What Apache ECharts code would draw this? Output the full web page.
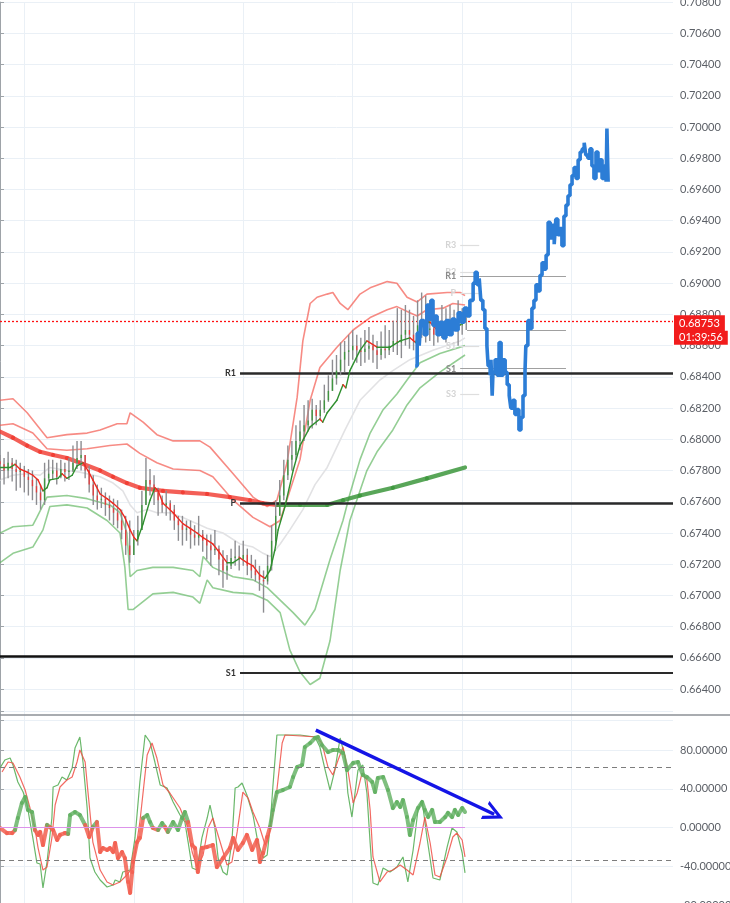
<!DOCTYPE html>
<html><head><meta charset="utf-8">
<script src="https://cdn.jsdelivr.net/npm/echarts@6/dist/echarts.min.js"></script>
<style>html,body{margin:0;padding:0;background:#fff}#c{width:730px;height:903px}</style>
</head><body><div id="c"></div>
<script>
// ---------- price bars (one per bar index, opening at prior close) ----------
const firstOpen = 0.6786;
const closes = [0.6784,0.6780,0.6785,0.6781,0.6779,0.6780,0.6776,0.6774,0.6770,0.6766,
0.6761,0.6775,0.6778,0.6780,0.6776,0.6781,0.6779,0.6780,0.6785,0.6788,
0.6790,0.6780,0.6771,0.6764,0.6761,0.6762,0.6758,0.6756,0.6753,0.6748,
0.6742,0.6732,0.6726,0.6736,0.6742,0.6758,0.6774,0.6771,0.6766,0.6761,
0.6758,0.6759,0.6755,0.6748,0.6745,0.6742,0.6743,0.6739,0.6737,0.6739,
0.6735,0.6732,0.6729,0.6730,0.6723,0.6716,0.6719,0.6724,0.6725,0.6723,
0.6726,0.6719,0.6716,0.6713,0.6710,0.6709,0.6719,0.6735,0.6751,0.6764,
0.6777,0.6787,0.6790,0.6799,0.6805,0.6809,0.6812,0.6819,0.6815,0.6819,
0.6825,0.6831,0.6839,0.6844,0.6851,0.6856,0.6857,0.6860,0.6857,0.6856,
0.6858,0.6860,0.6857,0.6854,0.6858,0.6857,0.6860,0.6863,0.6862,0.6867,
0.6870,0.6867,0.6863,0.6873,0.6876,0.6870,0.6871,0.6867,0.6869,0.6873,
0.6870,0.6875,0.6876,0.6873,0.6875,0.6875];
const highs = [0.6790,0.6788,0.6792,0.6788,0.6787,0.6785,0.6783,0.6781,0.6780,0.6775,
0.6771,0.6785,0.6787,0.6787,0.6785,0.6787,0.6785,0.6788,0.6796,0.6799,
0.6799,0.6790,0.6783,0.6777,0.6771,0.6769,0.6766,0.6764,0.6762,0.6761,
0.6755,0.6751,0.6748,0.6742,0.6751,0.6767,0.6788,0.6781,0.6777,0.6769,
0.6764,0.6767,0.6761,0.6758,0.6751,0.6751,0.6748,0.6748,0.6745,0.6751,
0.6742,0.6739,0.6739,0.6742,0.6732,0.6729,0.6726,0.6730,0.6735,0.6732,
0.6735,0.6730,0.6726,0.6723,0.6719,0.6716,0.6726,0.6745,0.6761,0.6774,
0.6787,0.6796,0.6799,0.6809,0.6812,0.6822,0.6825,0.6826,0.6822,0.6825,
0.6835,0.6841,0.6851,0.6854,0.6862,0.6863,0.6867,0.6870,0.6867,0.6865,
0.6870,0.6872,0.6867,0.6863,0.6869,0.6873,0.6870,0.6876,0.6884,0.6883,
0.6886,0.6883,0.6879,0.6889,0.6894,0.6892,0.6889,0.6883,0.6879,0.6886,
0.6884,0.6886,0.6883,0.6889,0.6884,0.6883];
const lows = [0.6774,0.6771,0.6775,0.6773,0.6767,0.6769,0.6766,0.6764,0.6761,0.6758,
0.6755,0.6758,0.6773,0.6774,0.6771,0.6775,0.6773,0.6774,0.6779,0.6781,
0.6780,0.6775,0.6766,0.6758,0.6755,0.6756,0.6751,0.6748,0.6745,0.6743,
0.6736,0.6726,0.6721,0.6727,0.6732,0.6742,0.6761,0.6764,0.6758,0.6751,
0.6753,0.6751,0.6748,0.6742,0.6735,0.6732,0.6735,0.6730,0.6732,0.6732,
0.6728,0.6723,0.6719,0.6726,0.6713,0.6705,0.6710,0.6717,0.6719,0.6716,
0.6719,0.6713,0.6711,0.6709,0.6703,0.6689,0.6707,0.6716,0.6732,0.6751,
0.6761,0.6774,0.6780,0.6787,0.6793,0.6799,0.6805,0.6807,0.6809,0.6812,
0.6817,0.6824,0.6831,0.6835,0.6841,0.6843,0.6847,0.6851,0.6849,0.6847,
0.6849,0.6851,0.6849,0.6845,0.6851,0.6852,0.6854,0.6856,0.6854,0.6852,
0.6860,0.6858,0.6857,0.6860,0.6865,0.6862,0.6863,0.6860,0.6862,0.6865,
0.6862,0.6867,0.6869,0.6860,0.6867,0.6870];

// ---------- indicator lines: [bar index, value] ----------
const bandUpperOuter = [[0,0.6825],[3.2,0.6826],[6.7,0.6817],[11.6,0.6801],[16.5,0.6803],[21.5,0.6804],[24.7,0.6806],[28.9,0.6810],[31.3,0.6810],[32.1,0.6817],[35.3,0.6811],[38.7,0.6803],[42.7,0.6799],[49.3,0.6799],[51.8,0.6795],[57.5,0.6778],[62.4,0.6763],[65.9,0.6757],[68.3,0.6761],[70.8,0.6785],[73.3,0.6827],[74.7,0.6863],[76.5,0.6887],[78.2,0.6891],[80.7,0.6893],[82.1,0.6894],[83.9,0.6887],[85.8,0.6883],[88.8,0.6893],[91.3,0.6897],[95.5,0.6901],[97.9,0.6900],[100.4,0.6891],[102.9,0.6888],[105.3,0.6893],[110.3,0.6894],[113.5,0.6894],[114.7,0.6892]];
const bandUpperInner = [[0,0.6809],[3.2,0.6810],[8.1,0.6804],[11.6,0.6794],[16.5,0.6793],[21.5,0.6794],[27.1,0.6796],[31.3,0.6797],[34.5,0.6791],[38.7,0.6785],[42.7,0.6781],[49.3,0.6780],[52.5,0.6776],[57.5,0.6761],[62.4,0.6750],[66.6,0.6744],[69.1,0.6748],[71.5,0.6767],[74.0,0.6787],[76.5,0.6825],[78.9,0.6846],[83.1,0.6859],[87.1,0.6870],[91.3,0.6878],[95.5,0.6883],[97.9,0.6885],[101.1,0.6881],[102.9,0.6879],[105.3,0.6883],[109.3,0.6884],[111.7,0.6887],[114.7,0.6886]];
const bandBasis = [[0,0.6774],[3.2,0.6777],[6.7,0.6778],[9.9,0.6777],[12.3,0.6782],[16.5,0.6780],[19.7,0.6779],[24.7,0.6776],[27.9,0.6772],[30.3,0.6767],[32.1,0.6758],[33.8,0.6753],[36.3,0.6755],[38.7,0.6753],[41.9,0.6753],[45.1,0.6750],[48.6,0.6746],[51.1,0.6743],[55.0,0.6740],[59.2,0.6733],[62.4,0.6731],[64.9,0.6727],[66.6,0.6725],[69.1,0.6733],[71.5,0.6742],[74.7,0.6755],[77.7,0.6771],[80.7,0.6782],[85.1,0.6806],[88.8,0.6825],[93.7,0.6838],[96.9,0.6844],[101.1,0.6851],[106.8,0.6857],[113.5,0.6863],[114.7,0.6865]];
const bandLowerInner = [[0,0.6740],[3.2,0.6744],[8.1,0.6745],[9.1,0.6750],[11.6,0.6763],[16.5,0.6764],[21.5,0.6762],[27.1,0.6758],[29.6,0.6753],[31.3,0.6740],[32.1,0.6712],[33.8,0.6716],[37.7,0.6718],[42.7,0.6718],[47.6,0.6716],[49.3,0.6712],[50.1,0.6725],[52.5,0.6718],[57.5,0.6712],[62.4,0.6710],[65.9,0.6705],[69.1,0.6697],[72.3,0.6689],[75.2,0.6681],[77.7,0.6691],[81.4,0.6723],[84.6,0.6748],[86.3,0.6765],[88.8,0.6787],[91.3,0.6804],[94.5,0.6819],[97.9,0.6829],[100.4,0.6838],[103.6,0.6849],[108.5,0.6855],[114.7,0.6860]];
const bandLowerOuter = [[0,0.6721],[3.2,0.6727],[8.1,0.6731],[10.6,0.6742],[12.3,0.6757],[16.5,0.6758],[21.5,0.6756],[26.4,0.6748],[29.6,0.6740],[30.8,0.6718],[31.6,0.6691],[32.8,0.6691],[37.7,0.6701],[42.7,0.6702],[47.6,0.6699],[49.3,0.6695],[51.1,0.6710],[52.5,0.6705],[57.5,0.6702],[62.4,0.6701],[65.9,0.6697],[69.1,0.6689],[71.5,0.6665],[74.0,0.6651],[76.5,0.6643],[78.9,0.6647],[81.4,0.6671],[83.9,0.6716],[86.3,0.6748],[88.8,0.6767],[90.5,0.6780],[93.0,0.6792],[96.9,0.6806],[100.4,0.6822],[103.6,0.6833],[108.5,0.6843],[114.7,0.6854]];
const fastMA = [[0,0.6782],[2.5,0.6782],[3.7,0.6784],[4.9,0.6781],[6.7,0.6779],[8.1,0.6777],[9.4,0.6774],[10.6,0.6767],[11.6,0.6769],[12.3,0.6774],[14.3,0.6775],[15.3,0.6778],[16.5,0.6775],[17.8,0.6777],[19.0,0.6783],[20.5,0.6785],[21.7,0.6780],[22.9,0.6774],[24.7,0.6765],[26.4,0.6762],[27.9,0.6759],[29.6,0.6755],[30.8,0.6750],[32.1,0.6742],[33.1,0.6737],[33.8,0.6735],[35.3,0.6746],[37.0,0.6761],[38.2,0.6769],[39.0,0.6767],[40.2,0.6759],[42.7,0.6753],[45.1,0.6746],[46.9,0.6743],[48.6,0.6740],[50.1,0.6737],[52.5,0.6733],[54.3,0.6727],[56.0,0.6721],[57.5,0.6721],[59.2,0.6724],[60.9,0.6721],[62.4,0.6719],[64.1,0.6713],[65.4,0.6711],[66.6,0.6716],[67.8,0.6729],[68.6,0.6742],[70.3,0.6757],[72.3,0.6780],[74.0,0.6796],[76.5,0.6808],[78.9,0.6813],[79.6,0.6811],[80.7,0.6817],[83.1,0.6825],[84.6,0.6835],[85.3,0.6833],[86.3,0.6844],[88.8,0.6857],[90.5,0.6863],[93.0,0.6859],[96.2,0.6859],[98.7,0.6863],[101.1,0.6865],[102.5,0.6862],[104.3,0.6874],[106.1,0.6875],[107.8,0.6870],[110.3,0.6872],[112.2,0.6875],[113.4,0.6873],[114.7,0.6876]];
const slowMA = [[0,0.6805],[3.2,0.6801],[6.7,0.6796],[9.9,0.6792],[13.1,0.6790],[16.5,0.6788],[19.7,0.6785],[24.7,0.6780],[27.9,0.6776],[31.3,0.6772],[34.5,0.6769],[40.2,0.6767],[45.1,0.6766],[51.1,0.6765],[56.7,0.6763],[61.7,0.6761],[64.9,0.6759],[68.3,0.6758],[74.0,0.6758],[80.7,0.6758],[84.6,0.6761],[88.8,0.6764],[96.9,0.6769],[105.3,0.6775],[114.7,0.6782]];
const forecast = [[102.4,0.6847],[102.9,0.6868],[103.4,0.6860],[103.8,0.6876],[104.6,0.6867],[105.3,0.6886],[105.8,0.6877],[106.3,0.6889],[106.8,0.6873],[107.3,0.6879],[107.8,0.6867],[108.5,0.6875],[109.3,0.6865],[110.0,0.6876],[110.8,0.6867],[111.5,0.6877],[112.2,0.6870],[113.0,0.6881],[113.7,0.6875],[114.5,0.6884],[115.2,0.6879],[115.9,0.6889],[116.7,0.6900],[117.2,0.6907],[117.7,0.6899],[118.2,0.6903],[118.6,0.6889],[119.1,0.6883],[119.6,0.6871],[120.1,0.6860],[120.4,0.6847],[120.9,0.6841],[121.1,0.6851],[121.4,0.6828],[121.6,0.6843],[122.1,0.6851],[122.6,0.6841],[123.1,0.6862],[123.6,0.6841],[124.1,0.6851],[124.6,0.6843],[125.1,0.6835],[125.6,0.6828],[126.0,0.6820],[126.5,0.6825],[127.0,0.6816],[127.5,0.6819],[128.0,0.6806],[128.5,0.6814],[129.0,0.6828],[129.5,0.6844],[129.7,0.6860],[130.2,0.6876],[130.7,0.6871],[131.2,0.6884],[131.7,0.6889],[132.2,0.6899],[132.7,0.6895],[133.2,0.6905],[133.7,0.6913],[134.2,0.6909],[134.7,0.6918],[135.2,0.6939],[135.7,0.6929],[136.2,0.6937],[136.7,0.6925],[137.1,0.6941],[137.6,0.6931],[138.1,0.6935],[138.6,0.6924],[139.1,0.6943],[139.6,0.6950],[140.1,0.6956],[140.6,0.6963],[141.1,0.6969],[141.6,0.6974],[142.1,0.6967],[142.6,0.6979],[143.1,0.6984],[143.6,0.6986],[144.1,0.6990],[144.5,0.6982],[145.0,0.6980],[145.5,0.6986],[146.0,0.6975],[146.5,0.6967],[147.0,0.6984],[147.5,0.6972],[148.0,0.6979],[148.5,0.6967],[149.0,0.6975],[149.5,0.6965],[149.7,0.6999],[150.0,0.6965]];

// ---------- levels ----------
const lastPrice = 0.68753;
const lastPriceText = '0.68753';
const countdownText = '01:39:56';
const supportLine = 0.6661;
const mainPivots = [['R1',0.68425],['P',0.67592],['S1',0.66503]];
const mainPivotFromBar = 59.2;
const sidePivots = [['R3',0.69244,'faint'],['R2',0.69073,'faint'],['R1',0.69044,'mid'],['P',0.68937,'faint'],['',0.68700,'mid'],['S1',0.68598,'faint'],['S1',0.68452,'mid'],['S3',0.68290,'faint']];
const sidePivotFromBar = 113.5, sidePivotShortTo = 118.2, sidePivotLongTo = 139.6;

// ---------- oscillator panel ----------
const oscMain = [[0,-0.5],[1.7,-5.7],[3.0,-5.7],[3.7,-2.6],[4.4,9.8],[5.4,25.3],[6.2,31.5],[6.9,18.1],[7.9,16.0],[8.6,-2.6],[9.4,-7.7],[9.9,-4.6],[10.6,-18.1],[11.6,2.6],[12.3,0.5],[13.1,-2.6],[14.1,-12.9],[14.8,-7.7],[16.0,-5.7],[16.8,-6.7],[17.3,12.9],[18.5,16.0],[19.7,12.9],[21.0,2.6],[22.0,-9.8],[22.9,0.5],[23.9,5.7],[24.7,-25.3],[25.4,-21.2],[26.4,-23.2],[27.1,-21.2],[27.9,-25.3],[28.4,-16.0],[29.1,-31.5],[30.1,-25.3],[30.8,-31.5],[31.6,-56.2],[32.1,-67.5],[32.6,-45.9],[32.8,-35.6],[33.8,-15.0],[34.5,-10.8],[35.3,9.8],[36.3,12.9],[37.0,5.7],[37.7,-0.5],[39.0,-2.6],[40.0,4.6],[40.7,0.5],[41.4,-4.6],[42.7,5.7],[43.9,-2.6],[44.9,9.8],[45.6,16.0],[46.4,5.7],[47.4,-18.1],[48.1,-21.2],[48.8,-45.9],[49.8,-21.2],[51.1,-20.1],[52.5,-18.1],[53.5,-40.8],[55.0,-31.5],[56.7,-21.2],[57.5,-10.8],[58.7,-23.2],[59.9,-16.0],[60.9,-7.7],[62.2,-23.2],[63.4,-12.9],[64.1,-35.6],[64.9,-26.3],[65.9,-9.8],[66.6,0.5],[67.3,18.1],[68.3,36.6],[69.8,38.7],[71.5,41.8],[72.3,52.1],[73.3,62.4],[74.5,64.5],[75.2,83.1],[76.5,87.2],[77.7,92.4],[78.4,93.4],[79.4,85.1],[80.9,77.9],[82.1,80.0],[83.4,80.0],[84.6,76.9],[85.6,59.3],[87.1,66.6],[88.3,67.6],[89.5,54.2],[90.5,52.1],[91.8,46.9],[92.5,36.6],[93.2,51.1],[94.5,52.1],[95.7,38.7],[96.9,20.1],[97.9,26.3],[98.7,21.2],[99.4,28.4],[100.4,10.8],[101.1,-7.7],[101.9,7.7],[103.1,20.1],[104.1,26.3],[104.8,18.1],[105.6,10.8],[106.6,18.1],[107.3,5.7],[108.5,5.7],[109.8,10.8],[110.5,15.0],[111.5,10.8],[112.2,18.1],[113.0,12.9],[114.0,20.1],[114.7,16.0]];
const oscK = [[0,61.4],[1.2,69.7],[2.5,71.7],[3.2,64.5],[4.4,47.0],[5.7,36.6],[6.7,23.2],[7.4,5.7],[8.1,-10.8],[9.1,-36.6],[9.9,-37.7],[10.6,-62.4],[11.6,-35.6],[12.8,9.8],[13.1,41.8],[14.3,43.9],[15.3,52.1],[16.5,49.0],[17.8,61.4],[18.5,82.0],[19.7,93.4],[20.5,66.6],[21.5,20.1],[22.2,-31.5],[23.4,-45.9],[24.7,-54.2],[26.4,-61.4],[27.9,-59.3],[28.4,-54.2],[29.6,-56.2],[30.3,-45.9],[32.1,-43.9],[33.3,-10.8],[34.5,47.0],[35.8,95.5],[37.0,88.2],[38.2,67.6],[39.5,43.9],[41.2,40.8],[42.7,26.3],[44.4,12.9],[45.6,5.7],[46.4,-15.0],[47.4,-41.8],[48.6,-43.9],[49.8,-10.8],[51.1,9.8],[51.8,23.2],[53.0,-0.5],[53.8,-31.5],[55.0,-45.9],[56.0,-49.0],[57.2,-15.0],[58.0,40.8],[58.7,41.8],[59.7,45.9],[60.9,33.5],[62.4,12.9],[63.6,-15.0],[64.9,-31.5],[65.9,-28.4],[66.6,0.5],[67.3,41.8],[68.3,95.5],[70.8,95.5],[74.0,95.5],[77.7,93.4],[78.9,83.1],[80.2,59.3],[81.4,38.7],[82.6,59.3],[83.9,92.4],[85.1,72.8],[85.8,35.6],[86.8,10.8],[87.6,36.6],[88.3,59.3],[89.5,64.5],[90.5,35.6],[91.3,-16.0],[92.0,-57.3],[93.2,-59.3],[94.5,-41.8],[96.2,-45.9],[97.9,-40.8],[99.4,-30.4],[100.6,-56.2],[101.9,-23.2],[103.1,18.1],[104.1,28.4],[105.3,-9.8],[106.8,-52.1],[108.5,-54.2],[110.3,-20.1],[111.5,-0.5],[112.7,-4.6],[114.0,-26.3],[114.7,-46.9]];
const oscD = [[0.5,57.3],[2.0,67.6],[3.2,66.6],[4.9,52.1],[6.2,38.7],[7.4,20.1],[8.6,-0.5],[9.4,-21.2],[10.6,-43.9],[11.6,-40.8],[12.8,-10.8],[13.6,23.2],[14.8,41.8],[16.5,49.0],[17.8,52.1],[19.0,67.6],[19.7,80.0],[21.0,67.6],[21.7,36.6],[22.9,-15.0],[24.7,-43.9],[26.4,-56.2],[27.9,-59.3],[29.6,-56.2],[31.3,-49.0],[32.8,-40.8],[34.5,5.7],[36.3,74.8],[37.5,87.2],[38.7,71.7],[40.2,43.9],[41.9,35.6],[44.4,20.1],[46.1,2.6],[47.4,-25.3],[48.6,-40.8],[50.1,-28.4],[51.3,-0.5],[52.5,9.8],[54.3,-15.0],[56.0,-38.7],[57.2,-35.6],[58.5,-4.6],[59.9,36.6],[61.2,30.4],[62.4,16.0],[64.1,-0.5],[65.4,-18.1],[66.1,-10.8],[66.6,-2.6],[68.3,38.7],[69.6,87.2],[70.3,95.5],[78.2,93.4],[79.4,87.2],[80.9,62.4],[82.1,54.2],[83.4,69.7],[84.6,83.1],[85.8,59.3],[87.1,25.3],[88.1,35.6],[89.3,56.2],[90.5,49.0],[91.3,18.1],[92.0,-30.4],[93.7,-56.2],[95.5,-45.9],[96.9,-43.9],[98.7,-38.7],[100.4,-43.9],[101.9,-49.0],[103.6,-16.0],[104.8,10.8],[106.1,-16.0],[107.3,-49.0],[108.5,-51.1],[110.3,-30.4],[111.7,-9.8],[112.7,-5.7],[114.0,-12.9],[114.7,-30.4]];
const oscBands = [62.7, -33.5];
const oscZeroTo = 114.7;
const trendArrow = [[77.9,100.6],[121.9,13.7]];

// ---------- axes ----------
const barCount = 167;
const gridBars = [6,33,60,87,114,141];
const priceAxis = {min:0.662, max:0.708, step:0.002};
const oscAxis = {min:-80, max:120, step:40};

// ---------- build ----------
const GREEN='#2f8f2f', RED='#ee2a20';
const opens = closes.map((c,i)=> i===0 ? firstOpen : closes[i-1]);
const candleData = closes.map((c,i)=>[i, opens[i], c, lows[i], highs[i]]);
function segs(pts, colorOf){const out=[];for(let k=0;k<pts.length-1;k++){const a=pts[k],b=pts[k+1];out.push([a[0],a[1],b[0],b[1],colorOf(a,b)]);}return out;}
const bySlope=(a,b)=> b[1]>=a[1]?1:0;
const bySign=(a,b)=> (a[1]+b[1])/2>=0?1:0;
function segSeries(data, xi, yi, width, g, r, z){
  return {type:'custom', xAxisIndex:xi, yAxisIndex:yi, z:z, silent:true,
    dimensions:['x0','y0','x1','y1','c'], encode:{x:[0,2], y:[1,3]}, data:data,
    renderItem:(params, api)=>{
      const p0=api.coord([api.value(0),api.value(1)]), p1=api.coord([api.value(2),api.value(3)]);
      return {type:'line', shape:{x1:p0[0],y1:p0[1],x2:p1[0],y2:p1[1]},
        style:{stroke: api.value(4)?g:r, lineWidth:width, lineCap:'round'}};
    }};
}
function lineSeries(data, xi, yi, color, width, z, extra){
  return Object.assign({type:'line', xAxisIndex:xi, yAxisIndex:yi, data:data, showSymbol:false, symbol:'none', silent:true, z:z,
    lineStyle:{color:color, width:width}, animation:false}, extra||{});
}
const cats = Array.from({length:barCount},(_,i)=>String(i));
const gridLineStyle = {color:'#eaf0f6', width:1};
function catAxis(gi){return {type:'category', gridIndex:gi, data:cats, boundaryGap:false,
  axisLine:{show:false}, axisTick:{show:false}, axisLabel:{show:false},
  splitLine:{show:true, interval:(i)=>gridBars.indexOf(i)>=0, lineStyle:gridLineStyle}};}

const pivotLabel = (txt, color)=>({show:!!txt, formatter:txt, position:'start', distance:4, color:color, fontSize:9, fontWeight:'bold', fontFamily:'Lato, sans-serif'});
const mainPivotLines = mainPivots.map(([n,v],k)=>[
  {coord:[mainPivotFromBar, v], label:pivotLabel(n,'#333'), lineStyle:{color:'#2a2a2a', width:n==='S1'?2:2.5, type:'solid'}},
  {coord:[barCount-1, v]}]);
const sidePivotLines = sidePivots.map(([n,v,kind])=>[
  {coord:[n===''?sidePivotFromBar+1.7:sidePivotFromBar, v], label:pivotLabel(n, kind==='mid'?'#8a8a8a':'#d4d4d4'),
   lineStyle:{color: kind==='mid'?'#a0a0a0':'#dedede', width:1.2, type:'solid'}},
  {coord:[kind==='mid'?sidePivotLongTo:sidePivotShortTo, v]}]);

const chevron = 'path://M0,15 L10,0 L20,15 L16.5,15 L10,5.2 L3.5,15 Z';

const option = {
  animation:false,
  backgroundColor:'#ffffff',
  grid:[{left:0,right:57,top:2.1,height:718.3,containLabel:false,outerBoundsMode:'none'},
        {left:0,right:57,top:711.25,height:193.75,containLabel:false,outerBoundsMode:'none'}],
  xAxis:[
    {type:'value', gridIndex:0, min:0, max:barCount-1, show:false},
    catAxis(0),
    {type:'value', gridIndex:1, min:0, max:barCount-1, show:false},
    catAxis(1)
  ],
  yAxis:[
    {type:'value', gridIndex:0, position:'right', min:priceAxis.min, max:priceAxis.max, interval:priceAxis.step,
     axisLine:{show:true, lineStyle:{color:'#9ea3a8', width:1}}, axisTick:{show:true, length:4, lineStyle:{color:'#9ea3a8'}},
     axisLabel:{color:'#5b5f66', fontSize:11, fontFamily:'Lato, sans-serif', margin:7,
       formatter:(v)=> v < priceAxis.min + priceAxis.step/2 ? '' : v.toFixed(5)},
     splitLine:{show:true, lineStyle:gridLineStyle}},
    {type:'value', gridIndex:1, position:'right', min:oscAxis.min, max:oscAxis.max, interval:oscAxis.step,
     axisLine:{show:true, lineStyle:{color:'#9ea3a8', width:1}}, axisTick:{show:true, length:4, lineStyle:{color:'#9ea3a8'}},
     axisLabel:{color:'#5b5f66', fontSize:11, fontFamily:'Lato, sans-serif', margin:7,
       formatter:(v)=> v > oscAxis.max - oscAxis.step/2 ? '' : v.toFixed(5)},
     splitLine:{show:true, lineStyle:gridLineStyle}}
  ],
  graphic:[{type:'line', shape:{x1:0,y1:715,x2:730,y2:715}, style:{stroke:'#8d9196', lineWidth:1.5}, z:100}],
  series:[
    lineSeries(bandBasis,0,0,'#e2e2e4',1.6,2,{
      markLine:{silent:true, symbol:['none','none'], animation:false, precision:5,
        data:[
          {yAxis:supportLine, lineStyle:{color:'#111', width:2.6, type:'solid'}, label:{show:false}}
        ].concat(mainPivotLines).concat(sidePivotLines)}}),
    lineSeries(bandUpperOuter,0,0,'rgba(244,90,80,0.7)',1.6,3),
    lineSeries(bandUpperInner,0,0,'rgba(244,90,80,0.7)',1.6,3),
    lineSeries(bandLowerInner,0,0,'rgba(90,180,90,0.65)',1.6,3),
    lineSeries(bandLowerOuter,0,0,'rgba(90,180,90,0.65)',1.6,3),
    segSeries(segs(slowMA,bySlope),0,0,4.2,'rgba(60,150,60,0.85)','rgba(240,55,45,0.8)',4),
    {type:'custom', xAxisIndex:0, yAxisIndex:0, z:5, silent:true, data:candleData,
     dimensions:['i','o','c','l','h'], encode:{x:0, y:[1,2,3,4]},
     renderItem:(params, api)=>{
       const i=api.value(0), o=api.value(1), c=api.value(2);
       const lo=Math.min(api.value(3),o,c), hi=Math.max(api.value(4),o,c);
       const x=api.coord([i,o])[0];
       const yo=api.coord([i,o])[1], yc=api.coord([i,c])[1], yl=api.coord([i,lo])[1], yh=api.coord([i,hi])[1];
       return {type:'group', children:[
         {type:'line', shape:{x1:x,y1:yh,x2:x,y2:yl}, style:{stroke:'#8c8c90', lineWidth:1.4}},
         {type:'line', shape:{x1:x,y1:yo,x2:x,y2:yc}, style:{stroke: c>o?'rgba(50,150,50,0.85)':(c<o?'rgba(240,50,50,0.85)':'#8c8c90'), lineWidth:1.4}}
       ]};
     }},
    segSeries(segs(fastMA,bySlope),0,0,1.4,GREEN,RED,6),
    lineSeries(forecast,0,0,'#2c7dd6',3.6,7,{step:'end'}),
    // last-price marker
    lineSeries([],0,0,'#ff0000',1,9,{
      markLine:{silent:true, symbol:['none','none'], animation:false, precision:5,
        lineStyle:{color:'#ff1010', type:[2,2], width:1.3, opacity:1},
        data:[{yAxis:lastPrice,
           label:{show:true, position:'end', distance:1, padding:[17,0,0,0],
             formatter:'{a|'+lastPriceText+'}\n{b|'+countdownText+'}',
             rich:{a:{backgroundColor:'#f21c1c', color:'#fff', fontSize:11, fontFamily:'Lato, sans-serif', padding:[3,5,2,5], lineHeight:15},
                   b:{backgroundColor:'#f21c1c', color:'#fff', fontSize:11, fontFamily:'Lato, sans-serif', padding:[1,5,2,5], lineHeight:14}}}}]}}),
    // oscillator panel
    lineSeries(oscK,2,1,'rgba(80,170,80,0.85)',1.2,3),
    lineSeries(oscD,2,1,'rgba(240,80,70,0.85)',1.2,3,{
      markLine:{silent:true, symbol:['none','none'], animation:false, label:{show:false},
        data:[
          {yAxis:oscBands[0], lineStyle:{color:'#7d7d7d', type:[5,4], width:1}},
          {yAxis:oscBands[1], lineStyle:{color:'#7d7d7d', type:[5,4], width:1}},
          [{coord:[0,0], lineStyle:{color:'#dc93ea', width:1, type:'solid'}},{coord:[oscZeroTo,0]}],
          [{coord:trendArrow[0], symbol:'none', lineStyle:{color:'#1414e6', width:3.5, type:'solid'}},
           {coord:trendArrow[1], symbol:chevron, symbolSize:20}]
        ]}}),
    segSeries(segs(oscMain,bySign),2,1,4,'rgba(95,175,95,0.8)','rgba(242,95,80,0.85)',4)
  ]
};
const chart = echarts.init(document.getElementById('c'), null, {renderer:'canvas'});
chart.setOption(option);
</script></body></html>
